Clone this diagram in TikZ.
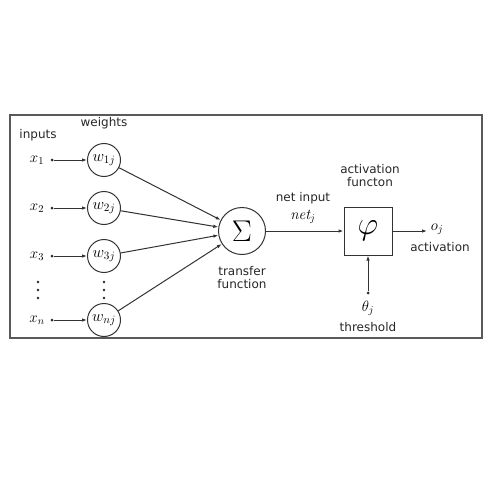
\RequirePackage{fix-cm}
\documentclass[tikz,border=0pt]{standalone}
\usepackage{fontspec}
\setsansfont{DejaVu Sans}
\usetikzlibrary{arrows.meta}
\begin{document}
\begin{tikzpicture}[x=1pt,y=-1pt,
  lbl/.style={font=\sffamily\fontsize{12}{13}\selectfont, text=black!85, align=center, inner sep=0pt},
  mth/.style={font=\fontsize{15}{15}\selectfont, inner sep=0pt},
  wcirc/.style={draw=black!80, circle, minimum size=33pt, inner sep=0pt, line width=1pt, font=\fontsize{16}{16}\selectfont},
  conn/.style={draw=black!80, line width=1pt, -{Latex[length=5pt,width=3.5pt]}},
  dotc/.style={circle, fill=black!85, inner sep=0pt, minimum size=3pt},
  vdot/.style={circle, fill=black!85, inner sep=0pt, minimum size=2.6pt}]
\useasboundingbox (0,0) rectangle (500,500);
\draw[black!65, line width=1.3pt] (10,115) rectangle (482,338);
\node[lbl] (inputs) at (38,135) {inputs};
\node[lbl] (weights) at (104,123) {weights};
\foreach \i/\y/\s in {1/160/1, 2/208/2, 3/256/3, n/320/n} {
  \node[mth] (x\i) at (37,\y) {$x_{\s}$};
  \node[dotc] (d\i) at (52,\y) {};
  \node[wcirc] (w\i) at (104,\y) {$w_{\s j}$};
  \draw[conn] (d\i) -- (w\i);
}
\foreach \xx/\nm in {38/a,104/b} {
  \node[vdot] (\nm1) at (\xx,282) {};
  \node[vdot] (\nm2) at (\xx,290) {};
  \node[vdot] (\nm3) at (\xx,298) {};
}
\node[draw=black!80, circle, minimum size=47pt, inner sep=0pt, line width=1pt, font=\fontsize{30}{30}\selectfont] (sig) at (242,231) {$\Sigma$};
\foreach \i in {1,2,3,n} { \draw[conn] (w\i) -- (sig); }
\node[lbl] (tf) at (242,278) {transfer\\function};
\node[draw=black!80, minimum size=48pt, inner sep=0pt, line width=1pt, font=\fontsize{32}{32}\selectfont] (phi) at (368,231) {$\varphi$};
\draw[conn] (sig) -- (phi);
\node[lbl] (ni) at (303,198) {net input};
\node[mth] (net) at (303,217) {$\mathit{net}_j$};
\node[lbl] (af) at (370,176) {activation\\functon};
\coordinate (oe) at (427,231);
\draw[conn] (phi) -- (oe);
\node[mth] (oj) at (437,229) {$o_j$};
\node[lbl] (act) at (440,247) {activation};
\node[dotc] (td) at (368,293) {};
\draw[conn] (td) -- (phi);
\node[mth] (th) at (368,308) {$\theta_j$};
\node[lbl] (thr) at (368,327) {threshold};
\end{tikzpicture}
\end{document}
